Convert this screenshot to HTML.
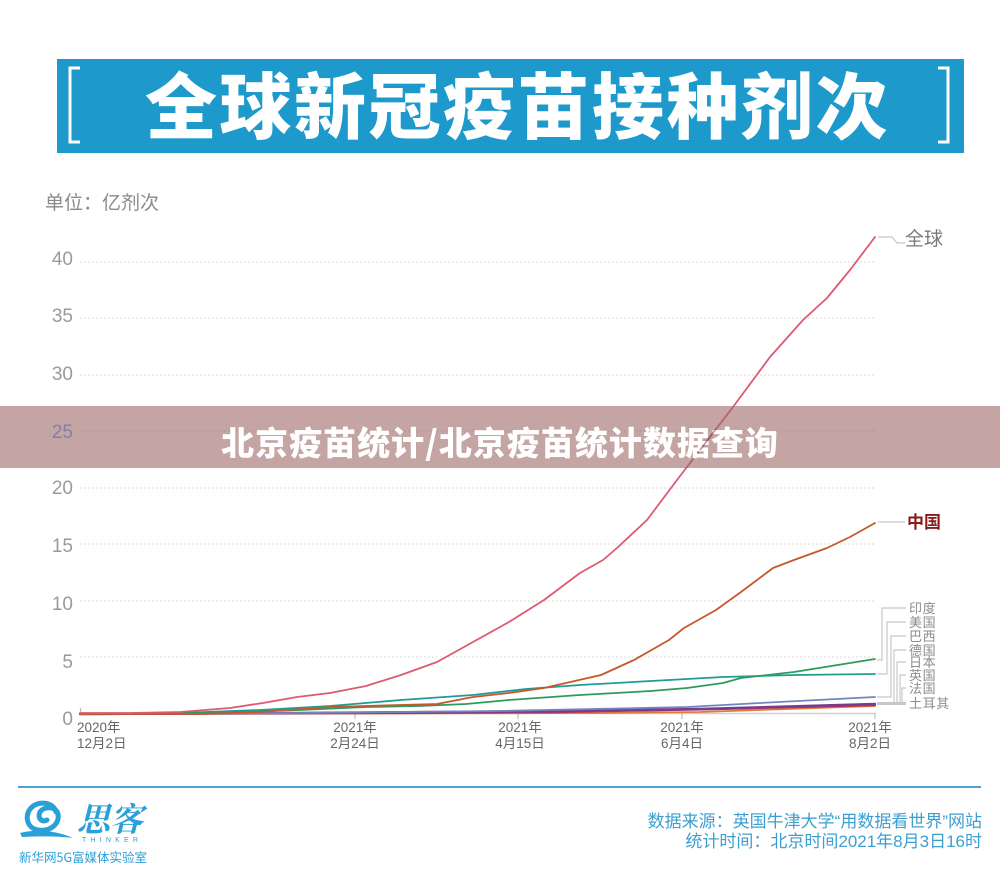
<!DOCTYPE html>
<html><head><meta charset="utf-8"><style>
html,body{margin:0;padding:0;background:#fff;}
svg{display:block;}
text{font-family:"Liberation Sans","Noto Sans CJK SC",sans-serif;}
</style></head><body>
<svg width="1000" height="875" viewBox="0 0 1000 875" xmlns="http://www.w3.org/2000/svg">
<rect width="1000" height="875" fill="#fff"/>
<!-- Title banner -->
<rect x="57" y="59" width="907" height="94" fill="#1d9acb"/>
<path d="M80,68 L70,68 L70,142 L80,142" fill="none" stroke="#fff" stroke-width="3"/>
<path d="M938,68 L948,68 L948,142 L938,142" fill="none" stroke="#fff" stroke-width="3"/>
<text x="145" y="133" font-size="72" font-weight="900" fill="#fff" letter-spacing="2.5" style="font-family:'Noto Sans CJK SC',sans-serif">全球新冠疫苗接种剂次</text>

<text x="45" y="209" font-size="19" fill="#8a8a8a" style="font-family:'Noto Sans CJK SC',sans-serif">单位：亿剂次</text>

<!-- gridlines -->
<g stroke="#d8d8d8" stroke-width="1" stroke-dasharray="2,2">
<line x1="80" y1="262" x2="875" y2="262"/>
<line x1="80" y1="318" x2="875" y2="318"/>
<line x1="80" y1="375" x2="875" y2="375"/>
<line x1="80" y1="431" x2="875" y2="431"/>
<line x1="80" y1="488" x2="875" y2="488"/>
<line x1="80" y1="544" x2="875" y2="544"/>
<line x1="80" y1="601" x2="875" y2="601"/>
<line x1="80" y1="657" x2="875" y2="657"/>
</g>
<!-- y labels -->
<g font-size="19" fill="#9a9a9a" text-anchor="end">
<text x="73" y="265">40</text>
<text x="73" y="322">35</text>
<text x="73" y="380">30</text>
<text x="73" y="494">20</text>
<text x="73" y="552">15</text>
<text x="73" y="610">10</text>
<text x="73" y="668">5</text>
<text x="73" y="725">0</text>
</g>

<!-- axis -->
<line x1="80" y1="713.5" x2="875" y2="713.5" stroke="#cfcfcf" stroke-width="1.5"/>
<g stroke="#bdbdbd" stroke-width="1.2">
<line x1="80.5" y1="708" x2="80.5" y2="714"/>
<line x1="355" y1="713" x2="355" y2="719"/>
<line x1="518" y1="713" x2="518" y2="719"/>
<line x1="682" y1="713" x2="682" y2="719"/>
<line x1="875" y1="713" x2="875" y2="719"/>
</g>
<g font-size="13.5" fill="#666" style="font-family:'Noto Sans CJK SC',sans-serif">
<text x="77" y="732">2020年</text><text x="77" y="748">12月2日</text>
<g text-anchor="middle">
<text x="355" y="732">2021年</text><text x="355" y="748">2月24日</text>
<text x="520" y="732">2021年</text><text x="520" y="748">4月15日</text>
<text x="682" y="732">2021年</text><text x="682" y="748">6月4日</text>
<text x="870" y="732">2021年</text><text x="870" y="748">8月2日</text>
</g></g>

<!-- series -->
<g fill="none" stroke-linejoin="round" stroke-linecap="round">
<path d="M80,714 L600,713 L700,712 L875,706" stroke="#e07a3a" stroke-width="1.8"/>
<path d="M80,714 L400,713 L560,712 L720,709 L875,705" stroke="#b0345a" stroke-width="2.2"/>
<path d="M80,714 L300,713 L560,711 L700,709 L875,704" stroke="#7a3b8f" stroke-width="2.4"/>
<path d="M80,714 L300,713 L500,711 L687,707 L760,703 L875,697" stroke="#7086bf" stroke-width="1.8"/>
<path d="M80,714 L180,713 L260,710 L330,706 L401,700 L473,695 L526,689 L580,685 L651,681 L723,677 L794,675 L875,674" stroke="#1f9b95" stroke-width="1.8"/>
<path d="M80,714 L200,713 L300,710 L366,707 L419,706 L466,704 L509,700 L580,695 L651,691 L687,688 L723,683 L741,678 L794,672 L875,659" stroke="#2e9b5c" stroke-width="1.8"/>
<path d="M80,714 L200,714 L260,712 L330,707 L437,704 L473,697 L509,693 L544,688 L566,683 L601,675 L634,660 L669,640 L684,628 L716,610 L741,592 L773,568 L794,560 L827,548 L850,537 L875,523" stroke="#c4592b" stroke-width="1.8"/>
<path d="M80,713 L130,713 L180,712 L230,708 L263,703 L297,697 L330,693 L366,686 L401,675 L437,662 L473,642 L509,622 L544,600 L580,573 L603,560 L617,548 L647,520 L677,480 L700,450 L733,407 L770,357 L803,320 L827,298 L850,270 L875,237" stroke="#dc5a72" stroke-width="1.8"/>
</g>

<!-- leader lines -->
<g fill="none" stroke="#c8c8c8" stroke-width="1.2">
<path d="M878,237 L892,237 L897,243 L905,243"/>
<path d="M878,522 L905,522"/>
<path d="M877,660 L882,660 L882,608 L906,608"/>
<path d="M877,674 L887,674 L887,622 L906,622"/>
<path d="M877,697 L891,697 L891,636 L906,636"/>
<path d="M894,703 L894,650 L906,650"/>
<path d="M897,703 L897,662 L906,662"/>
<path d="M900,703 L900,675 L906,675"/>
<path d="M902,703 L902,688 L906,688"/>
<path d="M877,703.5 L906,703.5" stroke-width="3"/>
</g>
<text x="905" y="245" font-size="19" fill="#7a7a7a" style="font-family:'Noto Sans CJK SC',sans-serif">全球</text>
<text x="907" y="528" font-size="17" font-weight="700" fill="#8b1a1a" style="font-family:'Noto Sans CJK SC',sans-serif">中国</text>
<g font-size="13" fill="#8c8c8c" letter-spacing="0.6" style="font-family:'Noto Sans CJK SC',sans-serif">
<text x="909" y="613">印度</text>
<text x="909" y="627">美国</text>
<text x="909" y="641">巴西</text>
<text x="909" y="655">德国</text>
<text x="909" y="667">日本</text>
<text x="909" y="680">英国</text>
<text x="909" y="693">法国</text>
<text x="909" y="708">土耳其</text>
</g>

<!-- overlay banner -->
<rect x="0" y="406" width="1000" height="62" fill="rgb(157,105,102)" fill-opacity="0.6"/>
<text x="73" y="438" font-size="19" fill="#8480a6" text-anchor="end">25</text>
<text x="500" y="455" font-size="33" font-weight="900" fill="#fff" text-anchor="middle" letter-spacing="1" style="font-family:'Noto Sans CJK SC',sans-serif">北京疫苗统计/北京疫苗统计数据查询</text>
<path d="M700,450 L716,429" stroke="#8a4a55" stroke-width="1.5" fill="none" opacity="0.6"/>

<!-- footer -->
<line x1="18" y1="787" x2="981" y2="787" stroke="#4aa3d3" stroke-width="2"/>
<g fill="none" stroke="#2b9fd8">
<path d="M56,812 C54,803 40,800 32,807 C24,814 26,828 38,830 C50,832 60,824 58,814 C56,806 44,806 40,812 C37,818 42,823 47,820" stroke-width="5" stroke-linecap="round"/>
</g>
<path d="M20,833 C35,829 55,830 73,838 C58,836 40,836 22,837 Z" fill="#2b9fd8"/>
<text x="77" y="831" font-size="33" font-weight="700" fill="#2b9fd8" font-style="italic" style="font-family:'Noto Serif CJK SC',serif">思客</text>
<text x="82" y="842" font-size="7" fill="#2b9fd8" letter-spacing="4.2">THINKER</text>
<text x="19" y="862" font-size="12.5" fill="#2b9fd8" style="font-family:'Noto Sans CJK SC',sans-serif">新华网5G富媒体实验室</text>
<g font-size="17" fill="#3d9fd0" text-anchor="end" style="font-family:'Noto Sans CJK SC',sans-serif">
<text x="982" y="827">数据来源：英国牛津大学“用数据看世界”网站</text>
<text x="982" y="847">统计时间：北京时间2021年8月3日16时</text>
</g>
</svg>
</body></html>
